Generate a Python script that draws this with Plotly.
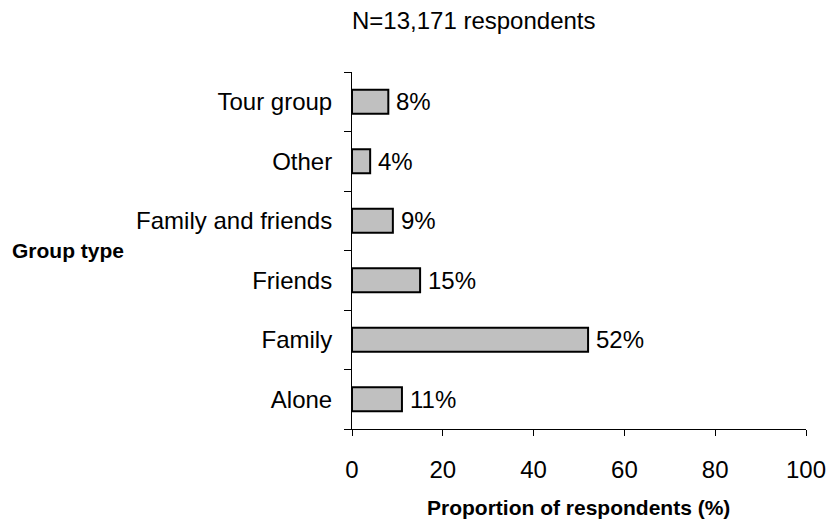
import plotly.graph_objects as go

# Group type shares (bottom to top)
groups = ["Alone", "Family", "Friends", "Family and friends", "Other", "Tour group"]
shares = [11, 52, 15, 9, 4, 8]
x_ticks = [0, 20, 40, 60, 80, 100]

FONT = "Liberation Sans, Arial, sans-serif"
L, R, T, B = 352, 22, 72, 91
W, H = 828, 520

fig = go.Figure(
    go.Bar(
        y=groups,
        x=shares,
        orientation="h",
        marker=dict(color="#c0c0c0", line=dict(color="black", width=2)),
        width=0.4,
        hoverinfo="skip",
    )
)

# Percentage labels to the right of each bar
for g, v in zip(groups, shares):
    fig.add_annotation(
        x=v, y=g, text=f"{v}%", showarrow=False,
        xanchor="left", yanchor="middle", xshift=6,
        font=dict(family=FONT, size=24, color="black"),
    )

pw, ph = W - L - R, H - T - B
def paper(xp, yp):
    return (xp - L) / pw, (H - B - yp) / ph

for text, (xp, yp), size in [
    ("N=13,171 respondents", (474, 20), 24),
    ("<b>Group type</b>", (68, 250), 21),
    ("<b>Proportion of respondents (%)</b>", (578, 507), 21),
]:
    xx, yy = paper(xp, yp)
    fig.add_annotation(
        text=text, x=xx, y=yy, xref="paper", yref="paper",
        xanchor="center", yanchor="middle", showarrow=False,
        font=dict(family=FONT, size=size, color="black"),
    )

fig.update_layout(
    width=W, height=H,
    margin=dict(l=L, r=R, t=T, b=B, autoexpand=False),
    paper_bgcolor="white", plot_bgcolor="white",
    showlegend=False,
    font=dict(family=FONT, size=24, color="black"),
)

fig.update_xaxes(
    range=[0, 100], tickvals=x_ticks, ticktext=[str(t) for t in x_ticks],
    showline=True, linecolor="black", linewidth=1,
    ticks="outside", ticklen=6, tickcolor="black", tickwidth=1,
    ticklabelstandoff=13, showgrid=False, zeroline=False, automargin=False,
    tickfont=dict(family=FONT, size=24),
)
fig.update_yaxes(
    type="category", range=[-0.5, 5.5],
    showline=True, linecolor="black", linewidth=1,
    ticks="outside", ticklen=7, tickcolor="black", tickwidth=1,
    tickson="boundaries", ticklabelstandoff=14, showgrid=False, automargin=False,
    tickfont=dict(family=FONT, size=24),
)

fig.write_html("out.html")
